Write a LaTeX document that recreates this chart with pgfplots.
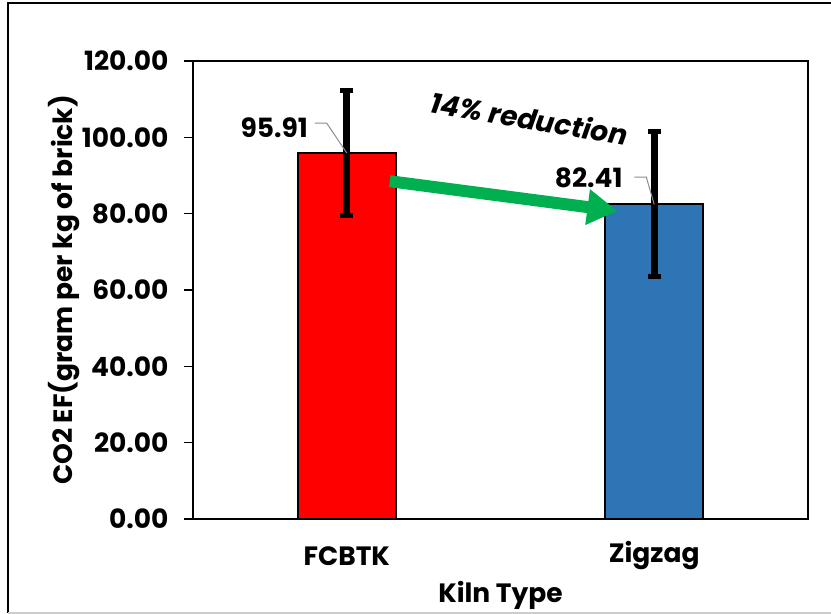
\documentclass[border=0pt]{standalone}
\usepackage{pgfplots}
\pgfplotsset{compat=1.18}
\usepackage{fontspec}
\setmainfont{Poppins}
\usetikzlibrary{arrows.meta}

\definecolor{barred}{RGB}{255,0,0}
\definecolor{barblue}{RGB}{46,117,182}
\definecolor{arrowgreen}{RGB}{0,176,80}

\newcommand{\lbl}{\fontsize{26.5bp}{30bp}\selectfont\bfseries}

\begin{document}
\begin{tikzpicture}
\useasboundingbox (-193bp,-95bp) rectangle (638bp,519bp);
% outer chart frame (right side is cut off)
\draw[line width=1.5bp,black] (638bp,516bp) -- (-185bp,516bp) -- (-185bp,-94bp);
\draw[line width=1.2bp,black!20] (-185bp,-94bp) -- (638bp,-94bp);

\begin{axis}[
  scale only axis,
  width=615bp, height=458bp,
  xmin=-0.5, xmax=1.5,
  ymin=0, ymax=120,
  ytick={0,20,...,120},
  xtick={0,1},
  xticklabels={FCBTK,Zigzag},
  ytick pos=left,
  xtick style={draw=none},
  tick align=outside,
  major tick length=9bp,
  axis line style={line width=1.5bp},
  every tick/.style={line width=1.2bp,black},
  /pgf/number format/assume math mode=true,
  ticklabel style={font=\lbl},
  yticklabel style={xshift=-12bp,/pgf/number format/.cd,fixed,fixed zerofill,precision=2},
  xticklabel style={anchor=center,yshift=-28bp},
  xlabel={Kiln Type},
  ylabel={CO2 EF(gram per kg of brick)},
  every axis x label/.style={font=\lbl,at={(axis description cs:0.5,0)},anchor=center,yshift=-76bp},
  every axis y label/.style={font=\fontsize{26.5bp}{30bp}\selectfont\bfseries,at={(axis description cs:0,0.5)},xshift=-129bp,anchor=center,rotate=90},
  ybar, bar width=98bp, bar shift=0pt,
  clip=false,
]
\addplot[fill=barred, draw=black, line width=2bp,
  error bars/.cd, y dir=both, y explicit,
  error bar style={line width=6.5bp,black},
  error mark options={rotate=90,mark size=6.5bp,line width=5bp,black}]
  coordinates {(0,95.91) +- (0,16.4)};
\addplot[fill=barblue, draw=black, line width=2bp,
  error bars/.cd, y dir=both, y explicit,
  error bar style={line width=6.5bp,black},
  error mark options={rotate=90,mark size=6.5bp,line width=5bp,black}]
  coordinates {(1,82.41) +- (0,19.0)};

% data labels with leader lines
\draw[black!45,line width=1bp] (axis cs:-0.104,103.7) -- (axis cs:-0.065,103.7) -- (axis cs:0,95.91);
\node[font=\lbl] at (axis cs:-0.236,102.4) {95.91};
\draw[black!45,line width=1bp] (axis cs:0.935,89.6) -- (axis cs:0.974,89.6) -- (axis cs:1,82.41);
\node[font=\lbl] at (axis cs:0.787,89.4) {82.41};

% reduction arrow and annotation
\draw[arrowgreen,line width=12bp,-{Triangle[length=30bp,width=34bp]}]
  (axis cs:0.14,88.5) -- (axis cs:0.88,80.7);
\node[font=\fontsize{28bp}{32bp}\selectfont\bfseries\itshape,rotate=-9.5] at (axis cs:0.594,105) {14\% reduction};
\end{axis}
\end{tikzpicture}
\end{document}
